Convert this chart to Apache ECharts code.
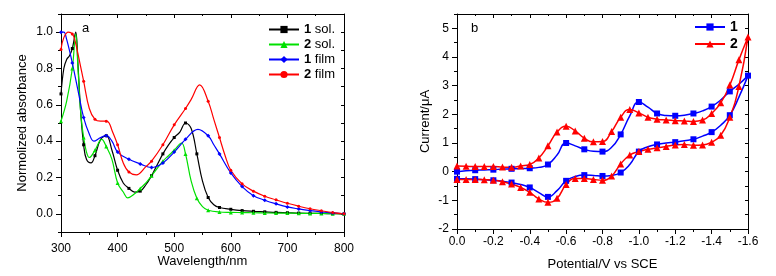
<!DOCTYPE html>
<html>
<head>
<meta charset="utf-8">
<script src="https://cdn.jsdelivr.net/npm/echarts@6/dist/echarts.min.js"></script>
<style>
html,body{margin:0;padding:0;background:#fff;}
#c{width:776px;height:276px;}
</style>
</head>
<body>
<div id="c"></div>
<script>
// ---------- Panel a: normalized absorbance ----------
const wl1sol = [300,305,310,315,320,326,330,335,340,345,353,360,370,380,390,400,410,420,430,440,450,460,470,480,490,500,510,520,530,540,550,560,570,580,600,620,640,660,680,700,720,740,760,780,800];
const abs1sol = [0.66,0.80,0.85,0.87,0.91,1.00,0.82,0.55,0.38,0.30,0.28,0.32,0.41,0.43,0.35,0.24,0.17,0.14,0.12,0.125,0.16,0.21,0.27,0.33,0.38,0.42,0.45,0.50,0.47,0.33,0.18,0.09,0.05,0.035,0.025,0.018,0.014,0.011,0.008,0.006,0.004,0.003,0.002,0.001,0.0];

const wl2sol = [300,310,320,326,330,335,340,345,350,360,372,380,390,400,410,418,430,440,450,460,470,480,490,500,513,520,530,540,550,560,580,600,620,640,660,680,700,720,740,760,780,800];
const abs2sol = [0.51,0.62,0.80,0.99,0.80,0.55,0.42,0.34,0.31,0.35,0.41,0.37,0.30,0.17,0.12,0.088,0.11,0.14,0.17,0.21,0.25,0.29,0.32,0.35,0.39,0.33,0.18,0.086,0.04,0.02,0.01,0.008,0.007,0.006,0.005,0.004,0.004,0.003,0.002,0.002,0.001,0.0];

const wl1film = [300,305,310,320,330,340,350,358,370,380,390,400,420,440,460,480,500,520,542,560,570,580,600,620,640,660,680,700,720,740,760,780,800];
const abs1film = [1.0,1.0,0.96,0.83,0.68,0.53,0.44,0.40,0.42,0.43,0.40,0.34,0.30,0.275,0.255,0.28,0.34,0.41,0.465,0.43,0.38,0.33,0.225,0.15,0.10,0.075,0.055,0.038,0.027,0.018,0.01,0.005,0.0];

const wl2film = [300,305,313,320,325,330,340,350,360,370,380,385,390,400,410,420,433,450,460,480,500,520,530,545,560,570,580,590,600,620,640,660,680,700,720,740,760,780,800];
const abs2film = [0.905,0.97,1.0,0.99,0.95,0.88,0.73,0.58,0.52,0.51,0.51,0.50,0.46,0.38,0.28,0.23,0.215,0.26,0.29,0.38,0.49,0.58,0.63,0.71,0.62,0.52,0.42,0.32,0.24,0.165,0.125,0.097,0.077,0.058,0.042,0.028,0.017,0.007,0.0];

const absTicks = [0.0,0.2,0.4,0.6,0.8,1.0];

// ---------- Panel b: cyclic voltammetry ----------
// compound 1: forward (0 -> -1.6) then reverse (-1.6 -> 0); markers at every 0.1 V
const pot1 = [0,-0.05,-0.1,-0.15,-0.2,-0.25,-0.3,-0.35,-0.4,-0.45,-0.5,-0.55,-0.6,-0.65,-0.7,-0.75,-0.8,-0.85,-0.9,-0.95,-1.0,-1.05,-1.1,-1.15,-1.2,-1.25,-1.3,-1.35,-1.4,-1.45,-1.5,-1.55,-1.6,
              -1.55,-1.5,-1.45,-1.4,-1.35,-1.3,-1.25,-1.2,-1.15,-1.1,-1.05,-1.0,-0.95,-0.9,-0.85,-0.8,-0.75,-0.7,-0.65,-0.6,-0.55,-0.5,-0.45,-0.4,-0.35,-0.3,-0.25,-0.2,-0.15,-0.1,-0.05,0];
const cur1 = [0.0,0.03,0.05,0.06,0.07,0.09,0.10,0.11,0.12,0.15,0.25,0.58,1.0,0.90,0.78,0.71,0.70,0.85,1.30,1.95,2.43,2.25,2.03,1.96,1.95,1.97,2.03,2.12,2.27,2.50,2.80,3.05,3.35,
              2.60,1.97,1.62,1.38,1.24,1.13,1.08,1.03,1.00,0.95,0.87,0.70,0.25,-0.03,-0.13,-0.15,-0.13,-0.12,-0.17,-0.32,-0.66,-0.88,-0.73,-0.55,-0.45,-0.38,-0.33,-0.30,-0.28,-0.26,-0.25,-0.25];

// compound 2: markers at every 0.05 V
const pot2 = [0,-0.05,-0.1,-0.15,-0.2,-0.25,-0.3,-0.35,-0.4,-0.45,-0.5,-0.55,-0.6,-0.65,-0.7,-0.75,-0.8,-0.85,-0.9,-0.95,-1.0,-1.05,-1.1,-1.15,-1.2,-1.25,-1.3,-1.35,-1.4,-1.45,-1.5,-1.55,-1.6,
              -1.55,-1.5,-1.45,-1.4,-1.35,-1.3,-1.25,-1.2,-1.15,-1.1,-1.05,-1.0,-0.95,-0.9,-0.85,-0.8,-0.75,-0.7,-0.65,-0.6,-0.55,-0.5,-0.45,-0.4,-0.35,-0.3,-0.25,-0.2,-0.15,-0.1,-0.05,0];
const cur2 = [0.20,0.19,0.18,0.18,0.18,0.16,0.15,0.20,0.25,0.48,0.90,1.38,1.58,1.42,1.17,1.04,1.05,1.40,1.90,2.17,2.05,1.90,1.83,1.80,1.78,1.77,1.75,1.80,2.03,2.40,3.02,3.90,4.70,
              2.97,1.90,1.27,1.03,0.93,0.92,0.95,0.93,0.88,0.83,0.78,0.70,0.58,0.27,-0.15,-0.30,-0.27,-0.24,-0.24,-0.45,-0.93,-1.07,-0.95,-0.72,-0.55,-0.43,-0.35,-0.30,-0.28,-0.27,-0.27,-0.27];

const curTicks = [-2,-1,0,1,2,3,4,5];

// ---------- build ----------
const FONT = '"Liberation Sans", Arial, sans-serif';

function markedData(xs, ys) {
  return xs.map((x, i) => {
    const item = { value: [x, ys[i]] };
    if (x % 20 !== 0) item.symbol = 'none';
    return item;
  });
}
function markedEvery(xs, ys, step) {
  return xs.map((x, i) => {
    const item = { value: [x, ys[i]] };
    const k = Math.round(Math.abs(x) * 100);
    if (k % step !== 0) item.symbol = 'none';
    return item;
  });
}

const axLine = { show: true, onZero: false, lineStyle: { color: '#000', width: 1 } };
const noLine = { show: false, onZero: false };
const lbl = { color: '#000', fontSize: 12, fontFamily: FONT };
const nameStyle = { color: '#000', fontSize: 13, fontFamily: FONT };

const chart = echarts.init(document.getElementById('c'), null, { renderer: 'canvas' });

const option = {
  animation: false,
  backgroundColor: '#fff',
  textStyle: { fontFamily: FONT },
  grid: [
    { left: 61, right: 432, top: 14, bottom: 44 },
    { left: 457, right: 28, top: 14, bottom: 46 }
  ],
  xAxis: [
    { gridIndex: 0, type: 'value', min: 300, max: 800, interval: 100, position: 'bottom',
      axisLine: axLine, axisTick: { show: true, length: 5, inside: false, lineStyle: { color: '#000' } },
      minorTick: { show: true, splitNumber: 2, length: 3, lineStyle: { color: '#000' } },
      axisLabel: Object.assign({ margin: 11 }, lbl), splitLine: { show: false },
      name: 'Wavelength/nm', nameLocation: 'middle', nameGap: 23, nameMoveOverlap: false,
      nameTextStyle: nameStyle },
    { gridIndex: 0, type: 'value', min: 300, max: 800, interval: 100, position: 'top',
      axisLine: axLine, axisTick: { show: true, length: 4, inside: true, lineStyle: { color: '#000' } },
      minorTick: { show: true, splitNumber: 2, length: 2, lineStyle: { color: '#000' } },
      axisLabel: { show: false }, splitLine: { show: false } },
    { gridIndex: 1, type: 'value', min: -1.6, max: 0, interval: 0.2, inverse: true, position: 'bottom',
      axisLine: axLine, axisTick: { show: true, length: 5, inside: false, lineStyle: { color: '#000' } },
      minorTick: { show: true, splitNumber: 2, length: 3, lineStyle: { color: '#000' } },
      axisLabel: Object.assign({ margin: 7, formatter: v => (Math.abs(v) < 1e-9 ? '0.0' : v.toFixed(1)) }, lbl),
      splitLine: { show: false },
      name: 'Potential/V vs SCE', nameLocation: 'middle', nameGap: 29, nameMoveOverlap: false,
      nameTextStyle: nameStyle },
    { gridIndex: 1, type: 'value', min: -1.6, max: 0, interval: 0.2, inverse: true, position: 'top',
      axisLine: axLine, axisTick: { show: true, length: 4, inside: true, lineStyle: { color: '#000' } },
      minorTick: { show: true, splitNumber: 2, length: 2, lineStyle: { color: '#000' } },
      axisLabel: { show: false }, splitLine: { show: false } }
  ],
  yAxis: [
    { gridIndex: 0, type: 'value', min: -0.1, max: 1.1, interval: 0.1, position: 'left',
      axisLine: axLine,
      axisTick: { show: true, length: 5, customValues: absTicks, lineStyle: { color: '#000' } },
      axisLabel: Object.assign({ margin: 8, customValues: absTicks, formatter: v => v.toFixed(1) }, lbl),
      splitLine: { show: false },
      name: 'Normolized absorbance', nameLocation: 'middle', nameGap: 32, nameRotate: 90, nameMoveOverlap: false,
      nameTextStyle: nameStyle },
    { gridIndex: 0, type: 'value', min: -0.1, max: 1.1, interval: 0.1, position: 'left',
      axisLine: noLine, axisTick: { show: true, length: 3, lineStyle: { color: '#000' } },
      axisLabel: { show: false }, splitLine: { show: false } },
    { gridIndex: 0, type: 'value', min: -0.1, max: 1.1, interval: 0.1, position: 'right',
      axisLine: axLine, axisTick: { show: true, length: 3, inside: true, lineStyle: { color: '#000' } },
      axisLabel: { show: false }, splitLine: { show: false } },
    { gridIndex: 1, type: 'value', min: -2, max: 5.5, interval: 0.5, position: 'left',
      axisLine: axLine,
      axisTick: { show: true, length: 5, customValues: curTicks, lineStyle: { color: '#000' } },
      axisLabel: Object.assign({ margin: 8, customValues: curTicks }, lbl),
      splitLine: { show: false },
      name: 'Current/\u03BCA', nameLocation: 'middle', nameGap: 25, nameRotate: 90, nameMoveOverlap: false,
      nameTextStyle: nameStyle },
    { gridIndex: 1, type: 'value', min: -2, max: 5.5, interval: 0.5, position: 'left',
      axisLine: noLine, axisTick: { show: true, length: 3, lineStyle: { color: '#000' } },
      axisLabel: { show: false }, splitLine: { show: false } },
    { gridIndex: 1, type: 'value', min: -2, max: 5.5, interval: 0.5, position: 'right',
      axisLine: axLine, axisTick: { show: true, length: 3, inside: true, lineStyle: { color: '#000' } },
      axisLabel: { show: false }, splitLine: { show: false } }
  ],
  legend: [
    { orient: 'vertical', left: 263, top: 18, itemGap: 2, itemWidth: 30, itemHeight: 9,
      data: ['1 sol.', '2 sol.', '1 film', '2 film'],
      formatter: n => { const p = n.split(' '); return '{b|' + p[0] + '} ' + p[1]; },
      textStyle: { color: '#000', fontSize: 13, fontFamily: FONT,
        rich: { b: { fontWeight: 'bold', fontSize: 13, fontFamily: FONT, color: '#000' } } } },
    { orient: 'vertical', left: 689, top: 15, itemGap: 3, itemWidth: 30, itemHeight: 9,
      data: ['1', '2'],
      textStyle: { color: '#000', fontSize: 14, fontWeight: 'bold', fontFamily: FONT } }
  ],
  graphic: [
    { type: 'text', left: 82, top: 22, style: { text: 'a', fontSize: 13, fontFamily: FONT, fill: '#000' } },
    { type: 'text', left: 471, top: 22, style: { text: 'b', fontSize: 13, fontFamily: FONT, fill: '#000' } }
  ],
  series: [
    { name: '1 sol.', type: 'line', xAxisIndex: 0, yAxisIndex: 0, smooth: 0.4,
      symbol: 'rect', symbolSize: 3, color: '#000000', lineStyle: { width: 1.2 },
      data: markedData(wl1sol, abs1sol) },
    { name: '2 sol.', type: 'line', xAxisIndex: 0, yAxisIndex: 0, smooth: 0.4,
      symbol: 'triangle', symbolSize: 4, color: '#00e000', lineStyle: { width: 1.2 },
      data: markedData(wl2sol, abs2sol) },
    { name: '1 film', type: 'line', xAxisIndex: 0, yAxisIndex: 0, smooth: 0.4,
      symbol: 'diamond', symbolSize: 4, color: '#0000ff', lineStyle: { width: 1.2 },
      data: markedData(wl1film, abs1film) },
    { name: '2 film', type: 'line', xAxisIndex: 0, yAxisIndex: 0, smooth: 0.4,
      symbol: 'circle', symbolSize: 3, color: '#ff0000', lineStyle: { width: 1.2 },
      data: markedData(wl2film, abs2film) },
    { name: '1', type: 'line', xAxisIndex: 2, yAxisIndex: 3, smooth: 0.5,
      symbol: 'rect', symbolSize: 6, color: '#0000ff', lineStyle: { width: 1.5 },
      data: markedEvery(pot1, cur1, 10) },
    { name: '2', type: 'line', xAxisIndex: 2, yAxisIndex: 3, smooth: 0.5,
      symbol: 'triangle', symbolSize: 7, color: '#ff0000', lineStyle: { width: 1.5 },
      data: markedEvery(pot2, cur2, 5) }
  ]
};
chart.setOption(option);
</script>
</body>
</html>
